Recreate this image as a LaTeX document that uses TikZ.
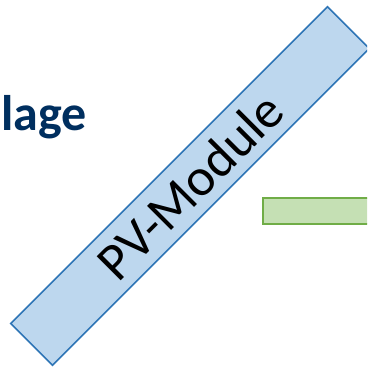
\documentclass[tikz,border=0pt]{standalone}
\usepackage{fontspec}
\setmainfont{Carlito}
\definecolor{pvfill}{HTML}{BDD7EE}
\definecolor{pvline}{HTML}{2E75B6}
\definecolor{gfill}{HTML}{C5E0B4}
\definecolor{gline}{HTML}{70AD47}
\definecolor{navy}{HTML}{002F5F}
\begin{document}
\begin{tikzpicture}[x=1pt,y=-1pt,
  pvbox/.style={draw=pvline,fill=pvfill,line width=1.6pt,rotate=45,minimum width=448pt,minimum height=59pt,inner sep=0pt,font=\fontsize{53}{55}\selectfont},
  gbox/.style={draw=gline,fill=gfill,line width=1.6pt},
  titletext/.style={text=navy,font=\fontsize{50}{52}\selectfont\bfseries,inner sep=0pt,anchor=base west}]
\useasboundingbox (0,0) rectangle (367,367);
\clip (0,0) rectangle (367,367);
\fill[white] (0,0) rectangle (367,367);
\draw[gbox] (263,198) rectangle (390,224);
\node[pvbox] (pv) at (190,186) {PV-Module};
\node[titletext] (t) at (1,130) {lage};
\end{tikzpicture}
\end{document}
